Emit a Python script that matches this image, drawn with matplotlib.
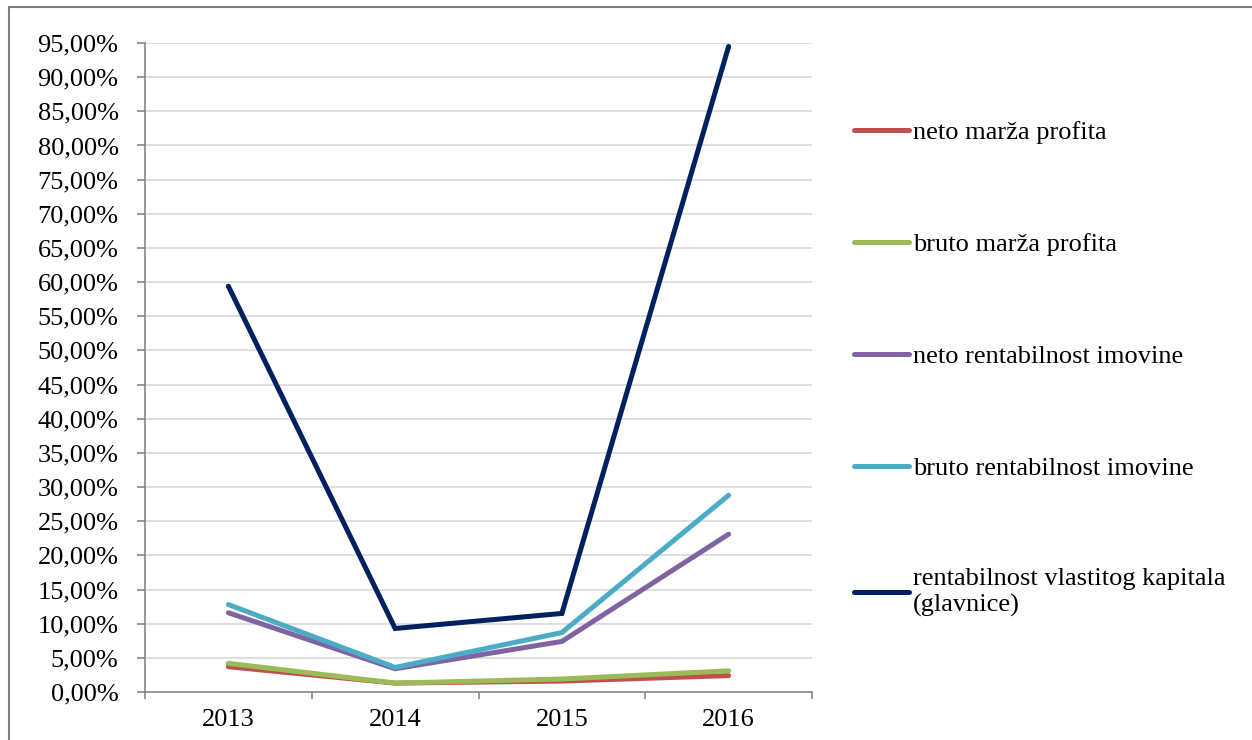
import matplotlib
matplotlib.use("Agg")
import matplotlib.pyplot as plt
import matplotlib.patches as patches
from matplotlib.ticker import FixedLocator, FuncFormatter

plt.rcParams['font.family'] = ['Liberation Serif', 'DejaVu Serif']

years = ['2013', '2014', '2015', '2016']
neto_marza = [3.7, 1.3, 1.6, 2.4]
bruto_marza = [4.2, 1.3, 1.9, 3.1]
neto_rent_imov = [11.6, 3.4, 7.4, 23.1]
bruto_rent_imov = [12.8, 3.6, 8.7, 28.8]
rent_kapitala = [59.4, 9.3, 11.5, 94.5]

labels = ['neto marža profita', 'bruto marža profita', 'neto rentabilnost imovine',
          'bruto rentabilnost imovine', 'rentabilnost vlastitog kapitala\n(glavnice)']
colors = ['#C0504D', '#9BBB59', '#8064A2', '#4BACC6', '#002060']
series = [neto_marza, bruto_marza, neto_rent_imov, bruto_rent_imov, rent_kapitala]

fig = plt.figure(figsize=(12.52, 7.4), dpi=100)
ax = fig.add_axes([145/1252, 1-692/740, (812-145)/1252, (692-43)/740])

x = range(len(years))
for s, c, l in zip(series, colors, labels):
    ax.plot(x, s, color=c, lw=3.6, label=l, solid_capstyle='round', solid_joinstyle='miter')

ax.set_xlim(-0.5, 3.5)
ax.set_ylim(0, 95)
ax.set_yticks(range(0, 96, 5))
ax.yaxis.set_major_formatter(FuncFormatter(lambda v, p: f"{v:.2f}%".replace('.', ',')))
ax.grid(axis='y', color='#D9D9D9', lw=1.2)
ax.set_axisbelow(True)

ax.xaxis.set_major_locator(FixedLocator([-0.5, 0.5, 1.5, 2.5, 3.5]))
ax.xaxis.set_major_formatter(FuncFormatter(lambda v, p: ''))
ax.xaxis.set_minor_locator(FixedLocator(list(x)))
ax.set_xticklabels(years, minor=True)
ax.tick_params(axis='x', which='minor', length=0, pad=12, labelsize=19)
ax.tick_params(axis='x', which='major', length=5, color='#868686', width=1.2)
ax.tick_params(axis='y', length=6, pad=13, color='#868686', width=1.2, labelsize=19)

for sp in ['top', 'right']:
    ax.spines[sp].set_visible(False)
for sp in ['left', 'bottom']:
    ax.spines[sp].set_color('#868686')
    ax.spines[sp].set_linewidth(1.2)

leg = fig.legend(loc='upper left', bbox_to_anchor=(854/1252, 1-121/740), frameon=False,
                 fontsize=19, handlelength=2.1, handletextpad=0.15, borderpad=0,
                 labelspacing=3.35, borderaxespad=0)

# outer frame around the chart area
fig.patches.append(patches.Rectangle((9/1252, -0.1), 1.2, 1.1 - 7/740, transform=fig.transFigure,
                                     fill=False, edgecolor='#808080', lw=1.5))

fig.savefig('out.png', dpi=100)
